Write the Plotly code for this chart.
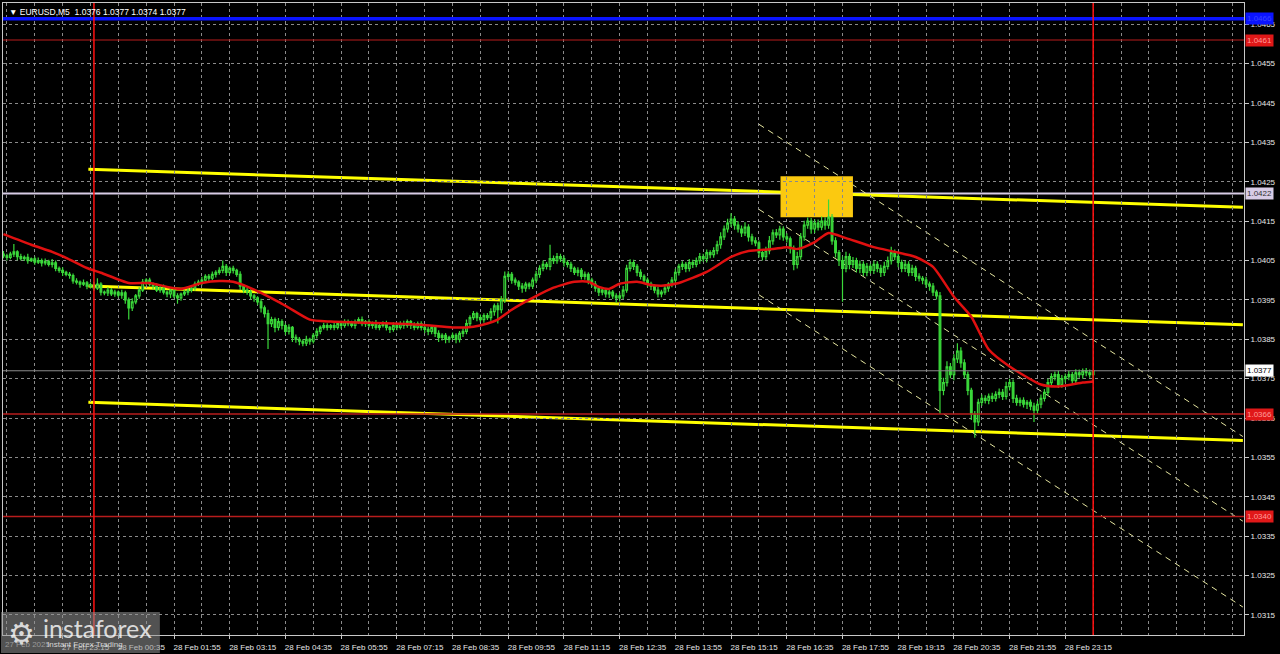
import pandas as pd
import plotly.graph_objects as go

# ---------------- data (prices in points of 1e-5 above 1.03000) ----------------
BASE = 1.03
PT = 1e-5
first_bar = "2025-02-27 21:50"
first_open_pts = 1066

closes_pts = [
    1062,1058,1066,1072,1060,1055,1058,1050,1054,1046,1050,1044,1048,1040,1044,1030,1025,1020,1015,1012,
    998,995,990,993,985,988,980,990,970,968,975,965,970,962,968,950,930,945,960,975,
    995,1000,990,985,975,980,970,965,975,960,955,965,970,975,980,990,995,1000,1010,1005,
    1015,1020,1025,1035,1020,1030,1025,1015,985,975,970,960,955,945,930,915,890,900,880,895,
    885,870,880,855,850,845,840,850,845,860,870,880,885,880,885,880,890,885,895,890,
    885,895,900,890,895,885,890,880,885,890,880,875,885,880,890,885,895,885,880,890,
    880,875,870,880,865,855,860,850,855,860,850,865,870,890,905,915,905,900,910,905,
    920,935,925,950,1010,1015,1000,995,985,980,990,985,1000,1015,1030,1040,1035,1055,1050,1060,
    1055,1045,1040,1030,1020,1025,1010,1015,1000,990,980,970,975,965,970,960,955,960,975,1030,
    1045,1035,1020,1010,1000,990,985,975,965,970,980,990,1000,1020,1035,1040,1030,1045,1040,1050,
    1060,1055,1070,1065,1075,1090,1110,1130,1145,1155,1140,1130,1120,1135,1110,1100,1095,1070,1060,1075,
    1100,1120,1115,1130,1110,1105,1080,1040,1060,1110,1140,1150,1130,1145,1135,1150,1140,1160,1100,1070,
    1050,1030,1060,1040,1050,1030,1040,1020,1035,1025,1040,1030,1020,1035,1050,1070,1060,1045,1030,1040,
    1020,1030,1010,1005,1000,990,985,970,960,720,740,780,760,800,820,790,760,720,660,640,
    690,700,695,705,700,710,715,705,730,740,700,690,695,685,690,680,670,685,700,715,
    740,755,760,735,750,755,760,745,765,760,770,765,760,770,
]
upper_wick_pts = [
    8,5,6,20,4,7,5,9,4,6,8,5,7,4,10,6,5,8,4,6,
    5,7,4,9,5,6,8,15,5,4,7,5,6,4,8,5,6,9,5,7,
    8,5,6,4,7,5,9,4,6,5,7,4,6,8,5,7,6,9,5,6,
    7,5,8,15,6,5,7,4,8,5,6,7,5,4,8,6,10,7,5,9,
    6,5,8,4,7,6,5,9,4,6,8,5,7,6,4,8,5,7,6,5,
    7,5,6,8,4,6,5,9,5,6,7,4,8,5,6,7,5,4,8,5,
    6,5,7,4,6,8,5,6,4,7,5,6,8,10,6,7,5,8,6,7,
    9,6,8,10,12,8,6,7,5,8,6,5,7,9,8,10,6,35,8,9,
    7,8,6,7,5,8,6,7,5,6,8,5,7,4,6,5,7,8,10,9,
    8,7,6,8,5,7,6,5,8,6,7,5,8,9,7,8,6,9,7,8,
    9,7,8,6,9,10,12,9,11,15,8,10,9,12,7,8,9,6,8,10,
    12,9,10,8,7,9,6,8,12,10,11,9,8,10,9,12,10,45,8,9,
    7,10,12,8,9,7,10,8,9,7,10,8,9,12,10,15,8,9,7,10,
    8,9,7,8,6,9,7,8,6,10,12,14,10,12,20,10,9,8,7,8,
    9,10,8,7,9,8,10,9,12,10,8,9,7,8,6,7,9,8,10,9,
    10,9,8,10,9,8,10,7,9,8,6,7,8,0,
]
lower_wick_pts = [
    6,8,5,7,9,5,6,8,4,7,5,9,6,5,8,7,6,9,5,8,
    7,6,9,5,8,6,7,5,9,6,8,5,7,6,9,10,30,8,6,7,
    5,8,6,9,5,7,6,8,10,6,15,7,5,8,6,7,5,8,6,7,
    5,8,6,7,9,5,8,6,10,8,7,9,10,8,12,10,65,9,12,8,
    10,9,8,12,9,10,8,7,9,6,8,7,5,8,6,7,5,8,6,7,
    5,8,6,7,9,5,8,6,7,5,8,9,6,7,5,8,6,9,7,5,
    8,9,10,7,9,12,8,10,9,7,10,8,9,7,8,6,9,7,8,6,
    8,10,35,9,8,10,9,8,10,12,9,8,7,8,9,7,8,10,9,8,
    9,10,8,9,7,10,8,9,10,8,9,10,8,9,10,8,12,9,8,7,
    8,9,10,8,9,7,10,8,9,8,7,9,8,10,8,9,10,8,9,7,
    9,8,10,9,8,9,10,8,9,10,12,9,10,8,12,10,9,12,10,8,
    9,10,8,12,10,9,12,15,10,8,10,9,12,10,9,8,12,9,10,12,
    14,85,10,12,9,10,12,9,10,8,9,10,12,9,8,10,9,12,10,9,
    10,9,12,8,10,9,12,10,9,60,12,10,9,14,10,12,9,12,15,40,
    10,9,8,10,9,8,10,9,8,10,12,9,10,8,12,10,30,9,10,8,
    9,8,10,9,8,10,9,8,9,8,10,9,8,20,
]

# moving average (bar index, points)
ma_bar = [0,8,14,18,24,28,36,42,47,51,57,62,66,72,79,82,88,94,105,120,
          129,135,139,142,146,152,158,164,168,171,174,177,182,186,189,194,202,209,214,221,
          225,228,233,237,242,250,256,262,267,273,278,283,289,298,303,310,313]
ma_pts = [1117,1090,1072,1057,1031,1019,993,993,983,978,993,998,996,976,945,930,900,895,892,887,
          880,882,890,900,925,955,981,996,996,983,978,991,996,988,986,993,1021,1059,1074,1079,
          1084,1079,1097,1120,1107,1084,1072,1059,1034,958,907,824,781,735,730,740,743]

# horizontal levels
level_prices = [1.04664, 1.0461, 1.0422, 1.0377, 1.0366, 1.0340]
level_labels = ["1.0466", "1.0461", "1.0422", "1.0377", "1.0366", "1.0340"]

# day separators
day_lines = ["2025-02-28 00:00", "2025-02-28 23:55"]

# yellow trend channel
trend_times = ["2025-02-27 23:52", "2025-03-01 03:30"]
trend_upper = [1.04282, 1.04185]
trend_mid = [1.03985, 1.03887]
trend_low = [1.03690, 1.03593]

# dashed regression channel
chan_times = ["2025-02-28 15:55", "2025-03-01 03:30"]
chan_upper = [1.04396, 1.03603]
chan_mid = [1.04180, 1.03388]
chan_low = [1.03963, 1.03170]

# highlighted zone
zone_times = ["2025-02-28 16:26", "2025-02-28 18:10"]
zone_prices = [1.04160, 1.04264]

title_text = "\u25BC EURUSD,M5  1.0376 1.0377 1.0374 1.0377"
x_ticks = pd.date_range("2025-02-27 23:15", "2025-02-28 23:15", freq="80min")
x_ticktext = [t.strftime("%d %b %H:%M") for t in x_ticks]

# ---------------- build ----------------
n = len(closes_pts)
times = pd.date_range(first_bar, periods=n, freq="5min")
opens_pts = [first_open_pts] + closes_pts[:-1]
to_price = lambda p: round(BASE + p * PT, 5)
opens = [to_price(p) for p in opens_pts]
closes = [to_price(p) for p in closes_pts]
highs = [to_price(max(o, c) + u) for o, c, u in zip(opens_pts, closes_pts, upper_wick_pts)]
lows = [to_price(min(o, c) - d) for o, c, d in zip(opens_pts, closes_pts, lower_wick_pts)]
ma_x = [times[i] for i in ma_bar]
ma_y = [to_price(p) for p in ma_pts]

FONT = "Liberation Sans"
fig = go.Figure()

fig.add_trace(go.Scatter(x=ma_x, y=ma_y, mode="lines",
                         line=dict(color="#e01010", width=2.5, shape="spline", smoothing=0.6),
                         hoverinfo="skip"))
fig.add_trace(go.Candlestick(
    x=times, open=opens, high=highs, low=lows, close=closes,
    increasing=dict(line=dict(color="#3ad83a", width=1.2), fillcolor="#0a0a0a"),
    decreasing=dict(line=dict(color="#3ad83a", width=1.2), fillcolor="#3ad83a"),
    whiskerwidth=0,
))

shapes = []
shapes.append(dict(type="line", xref="paper", x0=0, x1=1, yref="y", y0=level_prices[2], y1=level_prices[2],
                   line=dict(color="#d8cce6", width=2), layer="below"))
for ys, w in [(trend_upper, 3), (trend_mid, 3), (trend_low, 3)]:
    shapes.append(dict(type="line", xref="x", yref="y", x0=trend_times[0], x1=trend_times[1],
                       y0=ys[0], y1=ys[1], line=dict(color="#ffff00", width=w), layer="below"))
for ys in [chan_upper, chan_mid, chan_low]:
    shapes.append(dict(type="line", xref="x", yref="y", x0=chan_times[0], x1=chan_times[1],
                       y0=ys[0], y1=ys[1], line=dict(color="#e6e6a0", width=1, dash="6px,5px"),
                       layer="below"))
shapes.append(dict(type="rect", xref="x", yref="y", x0=zone_times[0], x1=zone_times[1],
                   y0=zone_prices[0], y1=zone_prices[1], fillcolor="#fbc910",
                   line=dict(width=0), layer="below"))
level_style = {0: ("#0a14ff", 3.5), 1: ("#b81c1c", 1.2), 3: ("#8c8c8c", 1),
               4: ("#b81c1c", 1.5), 5: ("#b81c1c", 1.5)}
for i, (col, w) in level_style.items():
    shapes.append(dict(type="line", xref="paper", x0=0, x1=1, yref="y",
                       y0=level_prices[i], y1=level_prices[i], line=dict(color=col, width=w),
                       layer="above"))
for d in day_lines:
    shapes.append(dict(type="line", xref="x", x0=d, x1=d, yref="paper", y0=0, y1=1,
                       line=dict(color="#ff1010", width=1.5), layer="above"))
# logo panel
shapes.append(dict(type="rect", xref="paper", yref="paper", x0=-2 / 1242, x1=157 / 1242,
                   y0=-18 / 634, y1=23 / 634, fillcolor="rgba(150,150,150,0.55)",
                   line=dict(width=0), layer="above"))

annotations = []
box_style = {0: ("#0a14ff", "#3a44ff"), 1: ("#e01818", "#ff9a9a"), 2: ("#d8cce6", "#303030"),
             3: ("#ffffff", "#000000"), 4: ("#e01818", "#ff9a9a"), 5: ("#e01818", "#ff9a9a")}
for i, (bg, fc) in box_style.items():
    annotations.append(dict(xref="paper", x=1, xanchor="left", xshift=1, yref="y", y=level_prices[i],
                            text=level_labels[i], showarrow=False, bgcolor=bg, borderpad=1,
                            font=dict(family=FONT, size=8, color=fc)))
annotations.append(dict(xref="paper", yref="paper", x=0.003, y=0.997, xanchor="left", yanchor="top",
                        text=title_text, showarrow=False,
                        font=dict(family=FONT, size=8.5, color="#ffffff")))
annotations.append(dict(xref="paper", yref="paper", x=0.0, y=-18 / 634, xanchor="left", yanchor="bottom",
                        text="27 Feb 2025", showarrow=False, yshift=2,
                        font=dict(family=FONT, size=8, color="#9a9a9a")))
annotations.append(dict(xref="paper", yref="paper", x=3 / 1242, y=2 / 634, xanchor="left",
                        yanchor="middle", text="\u2699", showarrow=False,
                        font=dict(family="DejaVu Sans", size=30, color="rgba(255,255,255,0.8)")))
annotations.append(dict(xref="paper", yref="paper", x=38 / 1242, y=7 / 634, xanchor="left",
                        yanchor="middle", text="instaforex", showarrow=False,
                        font=dict(family="Lato", size=25, color="rgba(255,255,255,0.8)")))
annotations.append(dict(xref="paper", yref="paper", x=42 / 1242, y=-10 / 634, xanchor="left",
                        yanchor="middle", text="Instant Forex Trading", showarrow=False,
                        font=dict(family=FONT, size=8, color="rgba(255,255,255,0.75)")))

grid = dict(gridcolor="#8a8a8a", griddash="3px,3px", gridwidth=1)
fig.update_layout(
    width=1280, height=654,
    margin=dict(l=2, r=36, t=2, b=18),
    paper_bgcolor="#000000", plot_bgcolor="#000000",
    showlegend=False,
    shapes=shapes, annotations=annotations,
    xaxis=dict(
        type="date", range=["2025-02-27 21:49:24", "2025-03-01 03:31:36"],
        rangeslider=dict(visible=False),
        tickmode="array", tickvals=list(x_ticks), ticktext=x_ticktext,
        ticks="outside", ticklen=3, tickcolor="#c8c8c8",
        tickfont=dict(family=FONT, size=8, color="#e6e6e6"),
        ticklabelshift=23, ticklabelstandoff=1,
        showgrid=False,
        minor=dict(tick0="2025-02-27 23:15", dtick=40 * 60 * 1000, showgrid=True, **grid),
        showline=True, linecolor="#c8c8c8", linewidth=1, mirror=True,
        zeroline=False,
    ),
    yaxis=dict(
        side="right", range=[1.03099, 1.04704],
        tick0=1.0315, dtick=0.001, tickformat=".4f",
        ticks="outside", ticklen=4, tickcolor="#c8c8c8",
        tickfont=dict(family=FONT, size=8, color="#e6e6e6"),
        showgrid=True, **grid,
        showline=True, linecolor="#c8c8c8", linewidth=1, mirror=True,
        zeroline=False,
    ),
)

fig.write_html("out.html", config={"displayModeBar": False},
               post_script="document.body.style.margin='0';document.body.style.padding='0';document.body.style.overflow='hidden';")
